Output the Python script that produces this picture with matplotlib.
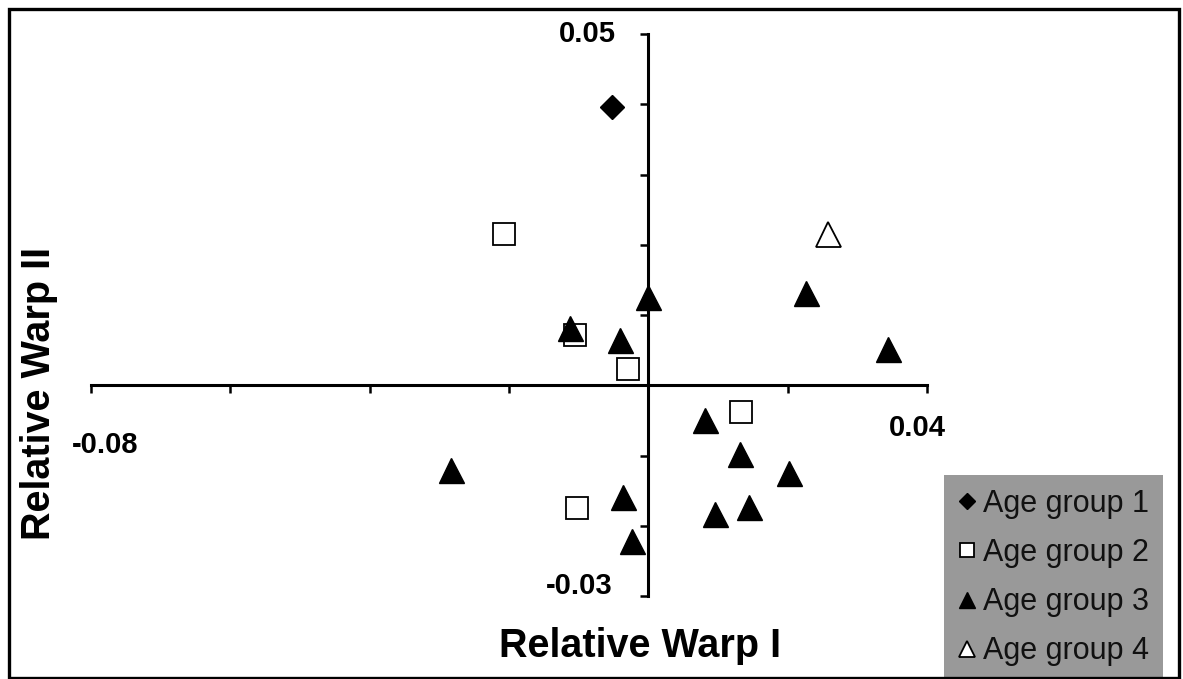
import matplotlib
matplotlib.use("Agg")
import matplotlib.pyplot as plt
from matplotlib.patches import Rectangle

# Data
g1_x = [-0.0052]
g1_y = [0.0396]
g2_x = [-0.0207, -0.0105, -0.0029, 0.0133, -0.0102]
g2_y = [0.0216, 0.0071, 0.0023, -0.0038, -0.0175]
g3_x = [-0.0112, -0.0040, -0.0001, 0.0227, 0.0344, 0.0082, 0.0131, 0.0202,
        0.0096, 0.0145, -0.0283, -0.0037, -0.0024]
g3_y = [0.0082, 0.0065, 0.0125, 0.0131, 0.0051, -0.0050, -0.0098, -0.0125,
        -0.0183, -0.0173, -0.0121, -0.0159, -0.0222]
g4_x = [0.0258]
g4_y = [0.0216]
labels = ["Age group 1", "Age group 2", "Age group 3", "Age group 4"]
x_ticks = [-0.08, -0.06, -0.04, -0.02, 0.0, 0.02, 0.04]
y_ticks = [-0.03, -0.02, -0.01, 0.0, 0.01, 0.02, 0.03, 0.04, 0.05]

W, H = 1183, 679
fig = plt.figure(figsize=(W / 100, H / 100), dpi=100)
plt.rcParams['font.family'] = ['Liberation Sans', 'DejaVu Sans']

ax = fig.add_axes([91 / W, 1 - 596 / H, 836 / W, 562 / H])
ax.set_xlim(-0.08, 0.04)
ax.set_ylim(-0.03, 0.05)
ax.patch.set_visible(False)

for s in ['top', 'right']:
    ax.spines[s].set_visible(False)
ax.spines['left'].set_position(('data', 0))
ax.spines['bottom'].set_position(('data', 0))
for s in ['left', 'bottom']:
    ax.spines[s].set_linewidth(2.2)
    ax.spines[s].set_color('black')

ax.set_xticks(x_ticks)
ax.set_yticks(y_ticks)
ax.set_xticklabels([])
ax.set_yticklabels([])
ax.tick_params(axis='both', direction='out', length=6, width=1.8, color='black')

ms_tri = 18
ax.plot(g2_x, g2_y, linestyle='none', marker='s', ms=16, mfc='white', mec='black',
        mew=1.3, label=labels[1], zorder=3)
ax.plot(g3_x, g3_y, linestyle='none', marker='^', ms=ms_tri, mfc='black', mec='black',
        mew=1.0, label=labels[2], zorder=4)
ax.plot(g1_x, g1_y, linestyle='none', marker='D', ms=12.5, mfc='black', mec='black',
        label=labels[0], zorder=4)
ax.plot(g4_x, g4_y, linestyle='none', marker='^', ms=ms_tri, mfc='white', mec='black',
        mew=1.3, label=labels[3], zorder=4)

# end tick labels
tick_font = dict(fontsize=21, fontweight='bold', color='black')
ax.annotate("-0.08", xy=(x_ticks[0], 0), xytext=(10, -43), textcoords='offset points',
            ha='center', va='center', **tick_font)
ax.annotate("0.04", xy=(x_ticks[-1], 0), xytext=(-7, -31), textcoords='offset points',
            ha='center', va='center', **tick_font)
ax.annotate("0.05", xy=(0, y_ticks[-1]), xytext=(-44, 0), textcoords='offset points',
            ha='center', va='center', **tick_font)
ax.annotate("-0.03", xy=(0, y_ticks[0]), xytext=(-50, 7), textcoords='offset points',
            ha='center', va='center', **tick_font)

fig.text(640 / W, 1 - 646 / H, "Relative Warp I", fontsize=28.5, fontweight='bold',
         ha='center', va='center')
fig.text(39 / W, 1 - 393 / H, "Relative Warp II", fontsize=28.5, fontweight='bold',
         ha='center', va='center', rotation=90)

# legend
hd = {lab: hh for hh, lab in zip(*ax.get_legend_handles_labels())}
leg = ax.legend([hd[k] for k in labels], labels, loc='upper left',
                bbox_to_anchor=(944 / W, 1 - 475 / H), bbox_transform=fig.transFigure,
                frameon=True, facecolor='#999999', edgecolor='#999999', framealpha=1,
                fancybox=False, markerscale=0.62, handlelength=0.6, handletextpad=0.22,
                borderpad=0.45, labelspacing=0.63, borderaxespad=0,
                prop={'family': 'Liberation Sans', 'size': 22})
leg.get_frame().set_linewidth(0)
for t in leg.get_texts():
    t.set_color('#111111')

# figure border
fig.add_artist(Rectangle((9 / W, 1 - 678 / H), 1170 / W, 669 / H, transform=fig.transFigure,
                         fill=False, edgecolor='black', linewidth=2.4, zorder=10))

fig.savefig("out.png", dpi=100)
